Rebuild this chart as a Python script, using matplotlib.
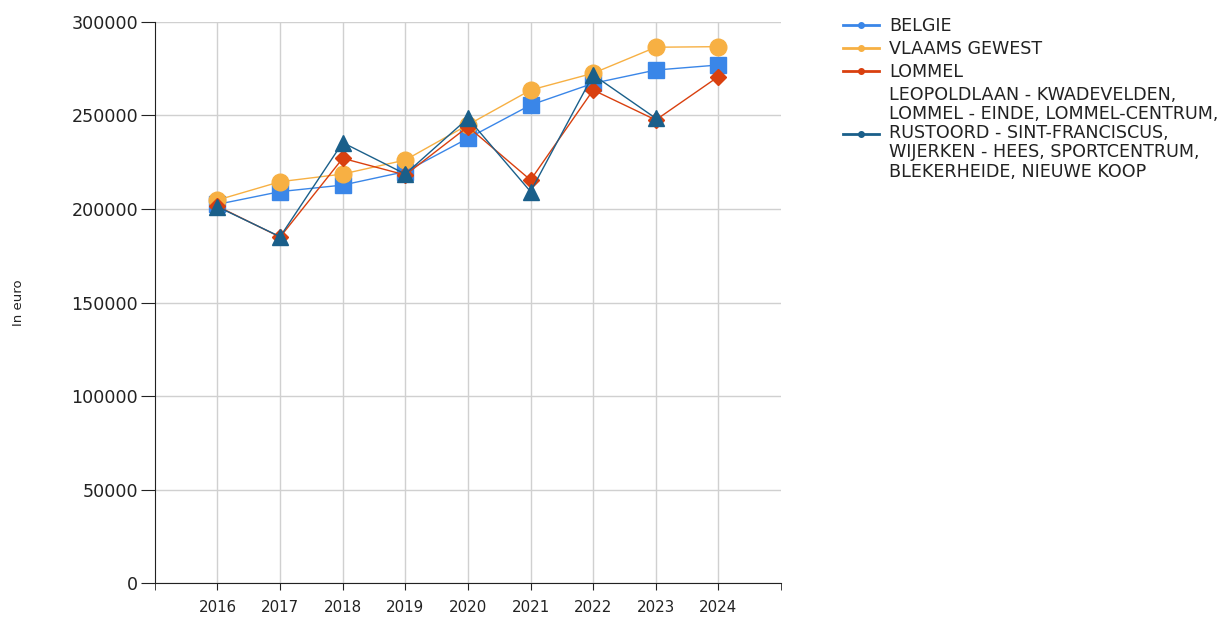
import matplotlib
matplotlib.use("Agg")
import matplotlib.pyplot as plt

plt.rcParams["font.family"] = ["DejaVu Sans"]

# Jaren en mediane verkoopprijzen (euro)
years = [2016, 2017, 2018, 2019, 2020, 2021, 2022, 2023, 2024]
belgie = [202500, 209300, 212800, 220000, 237800, 255600, 267200, 274300, 277000]
vlaams_gewest = [204800, 214600, 218700, 226200, 245000, 263600, 272600, 286500, 286800]
lommel = [201500, 185000, 227100, 218200, 244000, 215500, 263600, 247600, 270800]
wijk_years = [2016, 2017, 2018, 2019, 2020, 2021, 2022, 2023]
wijk = [201200, 185200, 235500, 218700, 248500, 209300, 271700, 248500]

labels = ["BELGIE", "VLAAMS GEWEST", "LOMMEL",
          "LEOPOLDLAAN - KWADEVELDEN,\nLOMMEL - EINDE, LOMMEL-CENTRUM,\n"
          "RUSTOORD - SINT-FRANCISCUS,\nWIJERKEN - HEES, SPORTCENTRUM,\n"
          "BLEKERHEIDE, NIEUWE KOOP"]
colors = ["#3a86e8", "#f7b043", "#d9400f", "#1a5f8a"]

fig = plt.figure(figsize=(12.29, 6.19), dpi=100)
ax = fig.add_axes([0.126, 0.058, 0.5095, 0.9065])

ax.plot(years, belgie, color=colors[0], lw=1, marker="s", ms=11, zorder=3)
ax.plot(years, vlaams_gewest, color=colors[1], lw=1, marker="o", ms=12, zorder=3)
ax.plot(years, lommel, color=colors[2], lw=1, marker="D", ms=8, zorder=4)
ax.plot(wijk_years, wijk, color=colors[3], lw=1, marker="^", ms=11, zorder=5)

ax.set_xlim(2015, 2025)
ax.set_ylim(0, 300000)
ax.set_xticks(years)
ax.set_xticks([2015, 2025], minor=True)
ax.set_yticks(range(0, 300001, 50000))
ax.tick_params(axis="x", which="both", length=5, labelsize=10.8, colors="#222222", pad=7)
ax.tick_params(axis="y", length=10, labelsize=12.6, colors="#222222", pad=2)
ax.grid(True, which="major", color="#d0d0d0", lw=1)
ax.set_axisbelow(True)
for s in ["top", "right"]:
    ax.spines[s].set_visible(False)
for s in ["left", "bottom"]:
    ax.spines[s].set_color("#222222")
ax.set_ylabel("In euro", fontsize=9.5, color="#222222")
ax.yaxis.set_label_coords(-0.207, 0.5)

handles = [plt.Line2D([], [], color=c, lw=2, marker="o", ms=4) for c in colors]
leg = fig.legend(handles, labels, loc="upper left", bbox_to_anchor=(0.6805, 0.984),
                 frameon=False, fontsize=12.6, handlelength=2.05, handletextpad=0.57,
                 labelspacing=0.29, borderaxespad=0, labelcolor="#222222")
for t in leg.get_texts():
    t.set_linespacing(1.08)

fig.savefig("out.png", dpi=100)
